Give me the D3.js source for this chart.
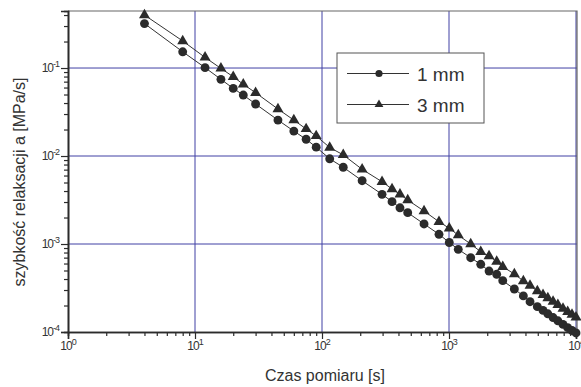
<!DOCTYPE html>
<html>
<head>
<meta charset="utf-8">
<script src="https://cdn.jsdelivr.net/npm/d3@7"></script>
<style>
  body { margin: 0; background: #fff; }
  svg { display: block; font-family: 'Liberation Sans', Arial, sans-serif; }
</style>
</head>
<body>
<div id="chart"></div>
<script>
// Measurement times [s] (shared by both series)
const times = [4, 8, 12, 16, 20, 24, 30, 45, 60, 75, 90, 115, 147, 207, 297, 356, 411, 473,
  636, 834, 1005, 1183, 1482, 1778, 2067, 2375, 2650, 3270, 3850, 4345, 4960,
  5500, 6000, 6600, 7200, 7900, 8600, 9300, 10000];

// Relaxation rate [MPa/s], 1 mm sample
const rate1mm = [0.32, 0.153, 0.101, 0.0744, 0.0587, 0.0493, 0.039, 0.0256, 0.0192, 0.0155,
  0.0126, 0.0093, 0.00745, 0.00524, 0.00367, 0.00303, 0.00258, 0.00227,
  0.00169, 0.00129, 0.00104, 0.00087, 0.000699, 0.000588, 0.000493, 0.000453, 0.000383,
  0.000308, 0.000257, 0.000221, 0.000194,
  0.000176, 0.000161, 0.000146, 0.000134, 0.000122, 0.000112, 0.000104, 0.0000975];

// Relaxation rate [MPa/s], 3 mm sample
const rate3mm = [0.40, 0.203, 0.132, 0.099, 0.0796, 0.0653, 0.0524, 0.0342, 0.0256, 0.0203,
  0.0169, 0.0125, 0.0103, 0.00706, 0.0051, 0.00422, 0.00367, 0.00316,
  0.00237, 0.00179, 0.00151, 0.00126, 0.001, 0.000817, 0.000731, 0.00063, 0.000552,
  0.000456, 0.00038, 0.000336, 0.000292,
  0.000265, 0.000243, 0.000221, 0.000203, 0.000185, 0.00017, 0.000158, 0.000147];

const seriesNames = ['1 mm', '3 mm'];
const xTickExps = [0, 1, 2, 3, 4];
const yTickExps = [-1, -2, -3, -4];
const xTitle = 'Czas pomiaru [s]';
const yTitle = 'szybkość relaksacji a [MPa/s]';

const width = 581, height = 387;
const plotLeft = 68, plotRight = 576, plotTop = 11, plotBottom = 332;
const ink = '#2b2b2b';
const gridColor = '#4040a4';

const svg = d3.select('#chart').append('svg')
  .attr('width', width).attr('height', height);

const x = d3.scaleLog().domain([1, 1e4]).range([plotLeft, plotRight]);
const y = d3.scaleLog().domain([1e-4, Math.pow(10, -0.352)]).range([plotBottom, plotTop]);

// Grid lines at the decades
svg.append('g').selectAll('line')
  .data(xTickExps.slice(1))
  .enter().append('line')
  .attr('x1', (d) => x(Math.pow(10, d))).attr('x2', (d) => x(Math.pow(10, d)))
  .attr('y1', plotTop).attr('y2', plotBottom)
  .attr('stroke', gridColor).attr('stroke-width', 1);

svg.append('g').selectAll('line')
  .data(yTickExps.slice(0, 3))
  .enter().append('line')
  .attr('y1', (d) => y(Math.pow(10, d))).attr('y2', (d) => y(Math.pow(10, d)))
  .attr('x1', plotLeft).attr('x2', plotRight + 1)
  .attr('stroke', gridColor).attr('stroke-width', 1);

// Frame top and right
svg.append('path')
  .attr('d', `M${plotLeft},${plotTop} H${plotRight + 1} V${plotBottom}`)
  .attr('fill', 'none').attr('stroke', '#666').attr('stroke-width', 1.2);

// Axes with minor ticks
const minorX = [];
for (let e = 0; e < 4; e++) for (let k = 2; k <= 9; k++) minorX.push(k * Math.pow(10, e));
const minorY = [];
for (let e = -4; e < 0; e++) for (let k = 2; k <= 9; k++) {
  const v = k * Math.pow(10, e);
  if (v <= y.domain()[1]) minorY.push(v);
}

const xAxis = svg.append('g').attr('transform', `translate(0,${plotBottom})`);
xAxis.call(d3.axisBottom(x).tickValues(minorX).tickSize(4).tickFormat(''));
xAxis.append('g').call(d3.axisBottom(x).tickValues(xTickExps.map((e) => Math.pow(10, e))).tickSize(7).tickFormat(''));
xAxis.selectAll('path').attr('stroke', ink).attr('stroke-width', 1.6);
xAxis.selectAll('line').attr('stroke', ink).attr('stroke-width', 1.2);

const yAxis = svg.append('g').attr('transform', `translate(${plotLeft},0)`);
yAxis.call(d3.axisLeft(y).tickValues(minorY).tickSize(4).tickFormat(''));
yAxis.append('g').call(d3.axisLeft(y).tickValues(yTickExps.map((e) => Math.pow(10, e))).tickSize(7).tickFormat(''));
yAxis.selectAll('path').attr('stroke', ink).attr('stroke-width', 1.6);
yAxis.selectAll('line').attr('stroke', ink).attr('stroke-width', 1.2);

// Tick labels: 10 with superscript exponent
const xLab = svg.append('g').selectAll('text')
  .data(xTickExps).enter().append('text')
  .attr('x', (d) => x(Math.pow(10, d)))
  .attr('y', 350)
  .attr('text-anchor', 'middle')
  .attr('fill', '#333').style('font-size', '12px').style('letter-spacing', '-1px');
xLab.append('tspan').text('10');
xLab.append('tspan').attr('dy', -5).style('font-size', '9px').text((d) => d);

const yLab = svg.append('g').selectAll('text')
  .data(yTickExps).enter().append('text')
  .attr('x', 59)
  .attr('y', (d) => y(Math.pow(10, d)) + 4)
  .attr('text-anchor', 'end')
  .attr('fill', '#333').style('font-size', '12px').style('letter-spacing', '-1px');
yLab.append('tspan').text('10');
yLab.append('tspan').attr('dy', -5).style('font-size', '9px').text((d) => '-' + (-d));

// Axis titles
svg.append('text')
  .attr('x', 325).attr('y', 381)
  .attr('text-anchor', 'middle')
  .attr('fill', '#333').style('font-size', '16px')
  .text(xTitle);

svg.append('text')
  .attr('transform', 'translate(25,182) rotate(-90)')
  .attr('text-anchor', 'middle')
  .attr('fill', '#333').style('font-size', '16px')
  .text(yTitle);

// Series
const series = [
  { name: seriesNames[0], values: rate1mm, symbol: d3.symbolCircle, size: 62 },
  { name: seriesNames[1], values: rate3mm, symbol: d3.symbolTriangle, size: 52 },
];

const line = d3.line().x((d) => x(d[0])).y((d) => y(d[1]));

series.forEach((s) => {
  const pts = times.map((t, i) => [t, s.values[i]]);
  svg.append('path')
    .datum(pts)
    .attr('d', line)
    .attr('fill', 'none').attr('stroke', '#333').attr('stroke-width', 1);
  svg.append('g').selectAll('path')
    .data(pts).enter().append('path')
    .attr('transform', (d) => `translate(${x(d[0])},${y(d[1])})`)
    .attr('d', d3.symbol().type(s.symbol).size(s.size))
    .attr('fill', ink);
});

// Legend
const legend = svg.append('g').attr('transform', 'translate(337,53)');
legend.append('rect')
  .attr('width', 147).attr('height', 70)
  .attr('fill', '#fff').attr('stroke', '#555').attr('stroke-width', 1);

series.forEach((s, i) => {
  const row = legend.append('g').attr('transform', `translate(0,${20.5 + i * 31})`);
  row.append('line')
    .attr('x1', 10).attr('x2', 72).attr('y1', 0).attr('y2', 0)
    .attr('stroke', '#333').attr('stroke-width', 1);
  row.append('path')
    .attr('transform', 'translate(42,0)')
    .attr('d', d3.symbol().type(s.symbol).size(s.size * 0.65))
    .attr('fill', ink);
  row.append('text')
    .attr('x', 80).attr('y', 7)
    .attr('fill', '#333').style('font-size', '19px')
    .text(s.name);
});
</script>
</body>
</html>
